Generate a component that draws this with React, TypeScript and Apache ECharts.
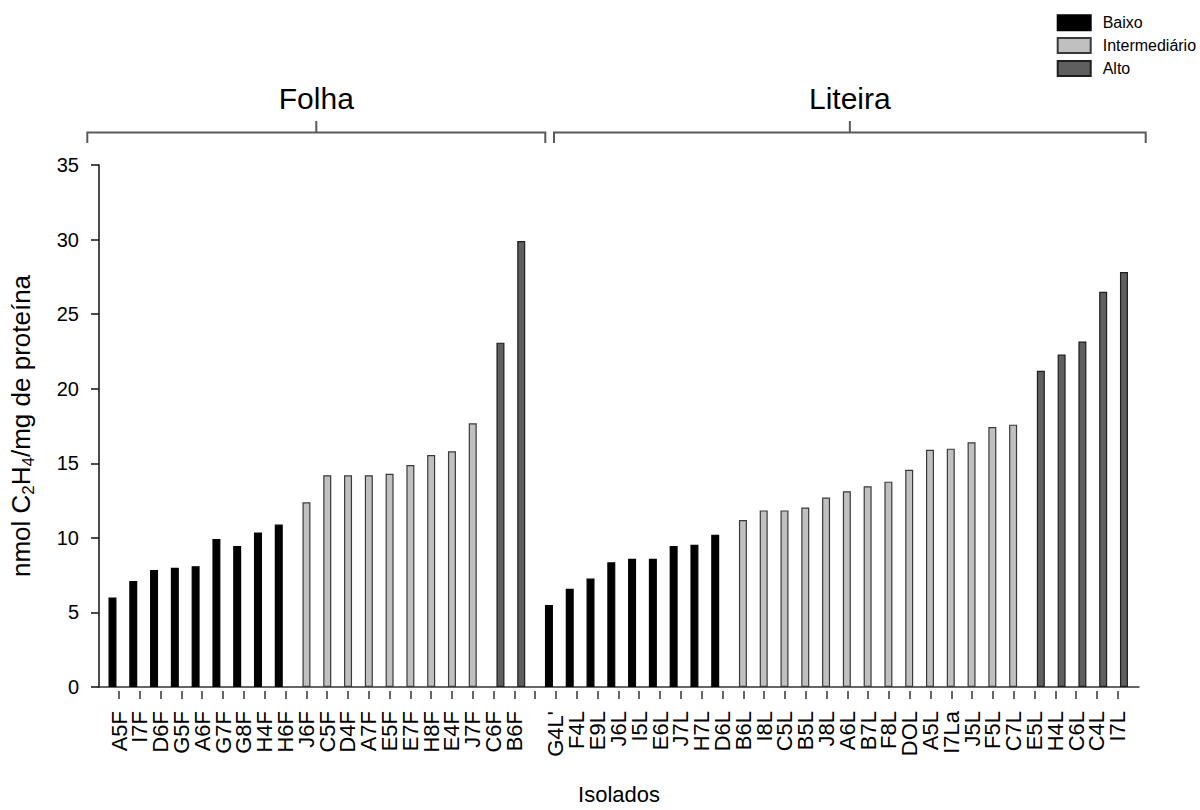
import React, { useEffect, useRef } from "react";
import * as echarts from "echarts";

const levelNames = ["Baixo", "Intermediário", "Alto"];
const levelColors = ["#000000", "#c0c0c0", "#5f5f5f"];
const levelBorders = ["#000000", "#3a3a3a", "#1e1e1e"];

const folhaLabels = [
  "A5F", "I7F", "D6F", "G5F", "A6F", "G7F", "G8F", "H4F", "H6F",
  "J6F", "C5F", "D4F", "A7F", "E5F", "E7F", "H8F", "E4F", "J7F",
  "C6F", "B6F",
];
const folhaValues = [
  6.0, 7.1, 7.85, 8.0, 8.1, 9.93, 9.45, 10.36, 10.89,
  12.38, 14.2, 14.19, 14.2, 14.3, 14.88, 15.55, 15.8, 17.68,
  23.09, 29.9,
];
const folhaGroupSizes = [9, 9, 2];

const liteiraLabels = [
  "G4L'", "F4L", "E9L", "J6L", "I5L", "E6L", "J7L", "H7L", "D6L",
  "B6L", "I8L", "C5L", "B5L", "J8L", "A6L", "B7L", "F8L", "DOL", "A5L", "I7La", "J5L", "F5L", "C7L",
  "E5L", "H4L", "C6L", "C4L", "I7L",
];
const liteiraValues = [
  5.5, 6.59, 7.27, 8.36, 8.6, 8.6, 9.45, 9.54, 10.2,
  11.2, 11.84, 11.84, 12.04, 12.7, 13.13, 13.46, 13.77, 14.57, 15.9, 15.98, 16.41, 17.43, 17.59,
  21.2, 22.29, 23.17, 26.5, 27.83,
];
const liteiraGroupSizes = [9, 14, 5];

const panelTitles = ["Folha", "Liteira"];
const yMin = 0;
const yMax = 35;
const yStep = 5;

const FONT = "'Liberation Sans', Arial, sans-serif";

export default function App() {
  const ref = useRef<HTMLDivElement>(null);

  useEffect(() => {
    const chart = echarts.init(ref.current!, null, { renderer: "svg" });

    const seriesData: number[][][] = [[], [], []];
    let idx = 0;
    let grp = 0;
    const addPanel = (values: number[], sizes: number[]) => {
      let k = 0;
      sizes.forEach((size, level) => {
        for (let j = 0; j < size; j++) {
          seriesData[level].push([idx + grp / 3, values[k]]);
          idx++;
          k++;
        }
        grp++;
      });
    };
    addPanel(folhaValues, folhaGroupSizes);
    addPanel(liteiraValues, liteiraGroupSizes);

    const tickLabels = [...folhaLabels, "", ...liteiraLabels];

    const bracket = (x1: number, x2: number, title: string) => {
      const xm = (x1 + x2) / 2;
      return [
        {
          type: "polyline",
          shape: { points: [[x1, 143], [x1, 132.5], [x2, 132.5], [x2, 143]] },
          style: { stroke: "#5a5a5a", lineWidth: 2, fill: null },
        },
        {
          type: "line",
          shape: { x1: xm, y1: 132.5, x2: xm, y2: 121 },
          style: { stroke: "#5a5a5a", lineWidth: 2 },
        },
        {
          type: "text",
          x: xm,
          y: 98,
          style: {
            text: title,
            font: `30px ${FONT}`,
            fill: "#000",
            align: "center",
            verticalAlign: "middle",
          },
        },
      ];
    };

    chart.setOption({
      animation: false,
      backgroundColor: "#ffffff",
      textStyle: { fontFamily: FONT },
      legend: {
        data: levelNames,
        orient: "vertical",
        left: 1051.7,
        top: 9.3,
        itemWidth: 33,
        itemHeight: 15,
        itemGap: 5.8,
        icon: "rect",
        textStyle: { fontSize: 16, color: "#000", fontFamily: FONT, padding: [0, 0, 0, 7] },
      },
      grid: [
        { left: 97.7, right: 61, top: 165, bottom: 119 },
        { left: 119, right: 82.2, top: 165, bottom: 119 },
      ],
      xAxis: [
        {
          type: "value",
          gridIndex: 0,
          min: -0.649,
          max: 49.39,
          axisLine: { show: true, onZero: false, lineStyle: { color: "#333", width: 1.5 } },
          axisTick: { show: false },
          axisLabel: { show: false },
          splitLine: { show: false },
          name: "Isolados",
          nameLocation: "middle",
          nameGap: 96,
          nameTextStyle: { fontSize: 22, color: "#000", fontFamily: FONT },
        },
        {
          type: "category",
          gridIndex: 1,
          data: tickLabels,
          boundaryGap: false,
          axisLine: { show: false, onZero: false },
          axisTick: { show: true, length: 8, interval: 0, lineStyle: { color: "#333", width: 1.5 } },
          axisLabel: {
            interval: 0,
            rotate: 90,
            fontSize: 22,
            margin: 20,
            color: "#000",
            fontFamily: FONT,
          },
          splitLine: { show: false },
        },
      ],
      yAxis: [
        {
          type: "value",
          gridIndex: 0,
          min: yMin,
          max: yMax,
          interval: yStep,
          axisLine: { show: true, onZero: false, lineStyle: { color: "#111", width: 1.5 } },
          axisTick: { show: true, length: 8, lineStyle: { color: "#111", width: 1.5 } },
          axisLabel: { fontSize: 20, margin: 20, color: "#000", fontFamily: FONT },
          splitLine: { show: false },
          name: "nmol C{s|2}H{s|4}/mg de proteína",
          nameLocation: "middle",
          nameGap: 62,
          nameTextStyle: {
            fontSize: 26,
            color: "#000",
            fontFamily: FONT,
            rich: {
              s: { fontSize: 17, color: "#000", fontFamily: FONT, padding: [15, 0, 0, 0] },
            },
          },
        },
        { type: "value", gridIndex: 1, min: yMin, max: yMax, show: false },
      ],
      series: levelNames.map((name, i) => ({
        name,
        type: "bar",
        xAxisIndex: 0,
        yAxisIndex: 0,
        barWidth: 8,
        barGap: "-100%",
        data: seriesData[i],
        itemStyle: { color: levelColors[i], borderColor: levelBorders[i], borderWidth: 1.2 },
      })),
      graphic: [
        ...bracket(87.3, 545.3, panelTitles[0]),
        ...bracket(554, 1145.7, panelTitles[1]),
      ],
    });

    return () => chart.dispose();
  }, []);

  return (
    <div
      ref={ref}
      style={{ position: "absolute", left: 0, top: 0, width: 1200, height: 810 }}
    />
  );
}
